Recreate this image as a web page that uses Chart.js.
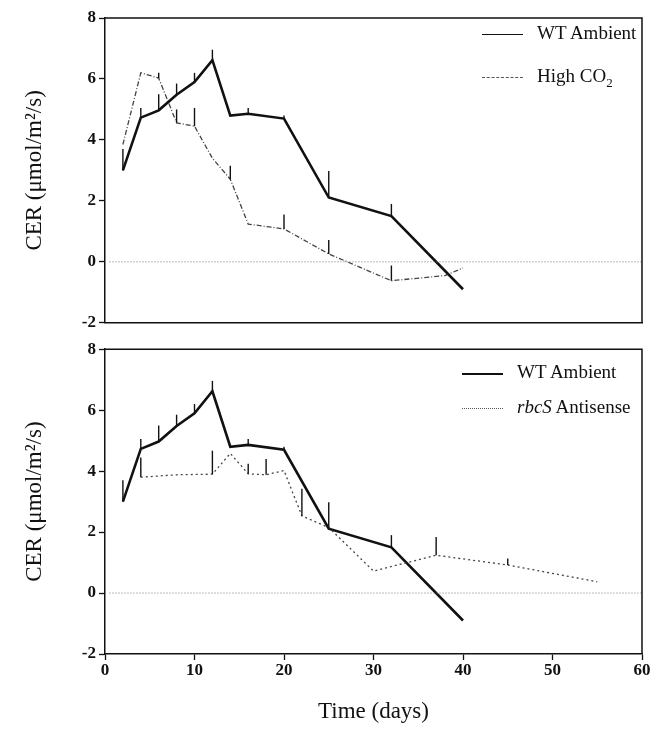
<!DOCTYPE html>
<html>
<head>
<meta charset="utf-8">
<script src="https://cdn.jsdelivr.net/npm/chart.js@4.4.0/dist/chart.umd.min.js"></script>
<style>
body{margin:0;background:#fff;width:650px;height:730px;position:relative;overflow:hidden;font-family:"Liberation Serif",serif;color:#111;}
.panel{position:absolute;left:0;width:650px;}
#top{top:0;height:336px;}
#bot{top:336px;height:394px;}
.leg{position:absolute;white-space:nowrap;font-size:19px;line-height:20px;}
.leg .ln{display:inline-block;width:41px;height:0;vertical-align:middle;margin-right:14px;}
</style>
</head>
<body>
<div class="panel" id="top"><canvas id="topchart"></canvas></div>
<div class="panel" id="bot"><canvas id="botchart"></canvas></div>

<div class="leg" style="left:482px;top:23px"><span class="ln" style="border-top:1.2px solid #111"></span>WT Ambient</div>
<div class="leg" style="left:482px;top:66px"><span class="ln" style="border-top:1.2px dashed #555"></span>High CO<sub style="font-size:13px">2</sub></div>
<div class="leg" style="left:462px;top:362px"><span class="ln" style="border-top:2px solid #111"></span>WT Ambient</div>
<div class="leg" style="left:462px;top:397px"><span class="ln" style="border-top:1.2px dotted #555"></span><i>rbcS</i> Antisense</div>

<script>
// values
const days = [2, 4, 6, 8, 10, 12, 14, 16, 20, 25, 32, 40];
const wtAmbient = [3.0, 4.73, 4.97, 5.48, 5.9, 6.62, 4.8, 4.86, 4.7, 2.11, 1.5, -0.9];
const wtAmbientErr = [3.7, 5.05, 5.5, 5.85, 6.2, 6.96, null, 5.05, 4.8, 2.98, 1.9, null];

const highCO2Days = [2, 4, 6, 8, 10, 12, 14, 16, 20, 25, 32, 38, 40];
const highCO2 = [3.85, 6.2, 6.03, 4.56, 4.45, 3.4, 2.71, 1.24, 1.08, 0.26, -0.62, -0.45, -0.2];
const highCO2Err = [null, null, 6.2, 5.0, 5.05, null, 3.15, null, 1.55, 0.72, -0.12, null, null];

const rbcSDays = [4, 8, 12, 14, 16, 18, 20, 22, 25, 30, 37, 45, 55];
const rbcS = [3.8, 3.88, 3.9, 4.58, 3.91, 3.88, 4.02, 2.53, 2.15, 0.72, 1.24, 0.92, 0.37];
const rbcSErr = [4.45, null, 4.67, null, 4.24, 4.4, null, 3.42, null, null, 1.84, 1.13, null];

const zeroLine = [0.5, 60];
const yTicks = [-2, 8, 2];
const xTicks = [0, 60, 10];

const ink = '#111';
const tickFont = {family: 'Liberation Serif', size: 17, weight: 'bold'};
const titleFont = {family: 'Liberation Serif', size: 23};

function pts(xs, ys) {
  return xs.map((x, i) => ({x: x, y: ys[i]}));
}

// vertical error bars (upper side only, like the scan)
const errorBars = {
  id: 'errorBars',
  afterDatasetsDraw(chart, args, opts) {
    const ctx = chart.ctx;
    const x = chart.scales.x, y = chart.scales.y;
    ctx.save();
    ctx.strokeStyle = ink;
    ctx.lineWidth = 1.4;
    (opts.sets || []).forEach(s => {
      s.xs.forEach((xv, i) => {
        if (s.tops[i] == null) return;
        const px = x.getPixelForValue(xv);
        ctx.beginPath();
        ctx.moveTo(px, y.getPixelForValue(s.ys[i]));
        ctx.lineTo(px, y.getPixelForValue(s.tops[i]));
        ctx.stroke();
      });
    });
    ctx.restore();
  }
};

// top + right edge of the box
const frame = {
  id: 'frame',
  afterDraw(chart) {
    const a = chart.chartArea, ctx = chart.ctx;
    ctx.save();
    ctx.strokeStyle = ink;
    ctx.lineWidth = 1.5;
    ctx.beginPath();
    ctx.moveTo(a.left, a.top);
    ctx.lineTo(a.right, a.top);
    ctx.lineTo(a.right, a.bottom);
    ctx.stroke();
    ctx.restore();
  }
};

function yScale() {
  return {
    min: yTicks[0], max: yTicks[1],
    ticks: {stepSize: yTicks[2], color: ink, font: tickFont, padding: 3},
    grid: {drawOnChartArea: false, color: ink, tickLength: 6, tickWidth: 1.3},
    border: {color: ink, width: 1.5},
    title: {display: true, text: 'CER (μmol/m²/s)', color: ink, font: titleFont, padding: {top: 21, bottom: 0}},
    afterFit(s) { s.width = 105; }
  };
}

function zeroSet() {
  return {
    data: pts(zeroLine, [0, 0]),
    borderColor: '#777', borderWidth: 1, borderDash: [1, 2], pointRadius: 0
  };
}

function wtSet(w) {
  return {
    label: 'WT Ambient',
    data: pts(days, wtAmbient),
    borderColor: ink, borderWidth: w, pointRadius: 0, tension: 0
  };
}

topchart = new Chart(document.getElementById('topchart'), {
  type: 'line',
  data: {
    datasets: [
      zeroSet(),
      wtSet(2.6),
      {
        label: 'High CO2',
        data: pts(highCO2Days, highCO2),
        borderColor: '#444', borderWidth: 1.3, borderDash: [5, 2, 1, 2], pointRadius: 0, tension: 0
      }
    ]
  },
  options: {
    responsive: true,
    maintainAspectRatio: false,
    animation: false,
    layout: {padding: {top: 18, right: 8, left: 0, bottom: 0}},
    plugins: {
      legend: {display: false},
      tooltip: {enabled: false},
      errorBars: {sets: [
        {xs: days, ys: wtAmbient, tops: wtAmbientErr},
        {xs: highCO2Days, ys: highCO2, tops: highCO2Err}
      ]}
    },
    scales: {
      x: {
        type: 'linear', min: xTicks[0], max: xTicks[1],
        ticks: {display: false, stepSize: xTicks[2]},
        grid: {drawOnChartArea: false, drawTicks: false},
        border: {color: ink, width: 1.5},
        afterFit(s) { s.height = 12; s.paddingRight = 0; }
      },
      y: yScale()
    }
  },
  plugins: [errorBars, frame]
});

botchart = new Chart(document.getElementById('botchart'), {
  type: 'line',
  data: {
    datasets: [
      zeroSet(),
      {
        label: 'rbcS Antisense',
        data: pts(rbcSDays, rbcS),
        borderColor: '#444', borderWidth: 1.3, borderDash: [2, 3], pointRadius: 0, tension: 0
      },
      wtSet(2.6)
    ]
  },
  options: {
    responsive: true,
    maintainAspectRatio: false,
    animation: false,
    layout: {padding: {top: 12, right: 8, left: 0, bottom: 0}},
    plugins: {
      legend: {display: false},
      tooltip: {enabled: false},
      errorBars: {sets: [
        {xs: days, ys: wtAmbient, tops: wtAmbientErr},
        {xs: rbcSDays, ys: rbcS, tops: rbcSErr}
      ]}
    },
    scales: {
      x: {
        type: 'linear', min: xTicks[0], max: xTicks[1],
        ticks: {stepSize: xTicks[2], color: ink, font: tickFont, padding: 0, maxRotation: 0},
        grid: {drawOnChartArea: false, color: ink, tickLength: 6, tickWidth: 1.3},
        border: {color: ink, width: 1.5},
        title: {display: true, text: 'Time (days)', color: ink, font: titleFont, padding: {top: 0, bottom: 4}},
        // the "60" label runs off the right edge in the original
        afterFit(s) { s.height = 76; s.paddingRight = 0; }
      },
      y: yScale()
    }
  },
  plugins: [errorBars, frame]
});
</script>
</body>
</html>
